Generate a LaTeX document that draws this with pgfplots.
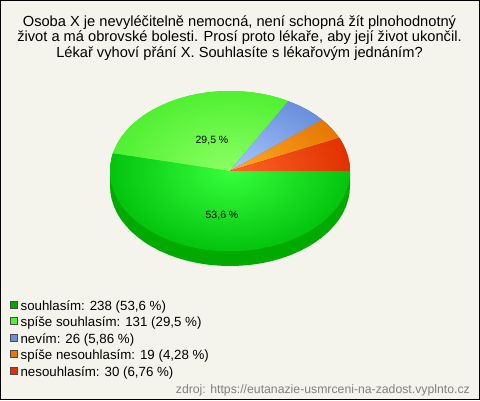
\documentclass[border=0pt]{standalone}
\usepackage{fontspec}
\setmainfont{Liberation Sans}
\usepackage{pgfplots}
\pgfplotsset{compat=1.18}

\definecolor{bgcol}{HTML}{F5F4EC}
\definecolor{rimcol}{HTML}{00AA00}
\definecolor{leg1}{HTML}{00AA00}
\definecolor{leg2}{HTML}{50F032}
\definecolor{leg3}{HTML}{6A8FDC}
\definecolor{leg4}{HTML}{E67800}
\definecolor{leg5}{HTML}{E03200}
\definecolor{in1}{HTML}{36FF3C}
\definecolor{out1}{HTML}{04C40E}
\definecolor{in2}{HTML}{8CFF64}
\definecolor{in3}{HTML}{A6C8FF}
\definecolor{in4}{HTML}{FFAA28}
\definecolor{in5}{HTML}{FF6428}

% radial gradient round the pie centre, clipped to each slice
% (the guard stops the inner path from running the picture again)
\pgfplotsset{
    slice/.style 2 args={
        draw=none, fill=#2, forget plot,
        path picture={
            \ifdefined\insideslice\else
            \def\insideslice{}
            \fill[inner color=#1, outer color=#2] (axis cs:0,0) ellipse [x radius=120pt, y radius=80pt];
            \fi
        }
    }
}

\begin{document}
\begin{tikzpicture}
\begin{axis}[
    scale only axis,
    width=479pt, height=399pt,
    xmin=-229.5, xmax=249.5,
    ymin=-228.5, ymax=170.5,
    xtick=\empty, ytick=\empty,
    axis line style={black, line width=1pt},
    axis background/.style={fill=bgcol},
    legend style={
        at={(axis cs:-220,-130)}, anchor=north west,
        draw=none, fill=none, inner sep=0pt, outer sep=0pt,
        font=\fontsize{13.3}{15}\selectfont,
        row sep=4pt,
        nodes={text height=9pt, text depth=3pt, inner sep=0pt, outer sep=0pt}
    },
    legend cell align=left,
    legend image code/.code={
        \draw[#1, line width=0.8pt] (0pt,-1pt) rectangle (7pt,6pt);
        \path (10pt,0pt);
    },
]
% rim of the pie
\addplot[draw=none, fill=rimcol, forget plot] coordinates {
    (-120,0)(-120,-15)(-119.5,-22)(-118.2,-28.9)(-115.9,-35.7)(-112.8,-42.4)(-108.8,-48.8)
    (-103.9,-55)(-98.3,-60.9)(-91.9,-66.4)(-84.9,-71.6)(-77.1,-76.3)(-68.8,-80.5)(-60,-84.3)
    (-50.7,-87.5)(-41,-90.2)(-31.1,-92.3)(-20.8,-93.8)(-10.5,-94.7)(0,-95)
    (10.5,-94.7)(20.8,-93.8)(31.1,-92.3)(41,-90.2)(50.7,-87.5)(60,-84.3)(68.8,-80.5)
    (77.1,-76.3)(84.9,-71.6)(91.9,-66.4)(98.3,-60.9)(103.9,-55)(108.8,-48.8)(112.8,-42.4)
    (115.9,-35.7)(118.2,-28.9)(119.5,-22)(120,-15)(120,0)(-120,0)
};
% souhlasim 238
\addplot[slice={in1}{out1}] coordinates {
    (0,0)(-116.9,18)(-118.2,13.9)(-119.5,7)(-120,0)
    (-119.5,-7)(-118.2,-13.9)(-115.9,-20.7)(-112.8,-27.4)(-108.8,-33.8)(-103.9,-40)(-98.3,-45.9)
    (-91.9,-51.4)(-84.9,-56.6)(-77.1,-61.3)(-68.8,-65.5)(-60,-69.3)(-50.7,-72.5)(-41,-75.2)
    (-31.1,-77.3)(-20.8,-78.8)(-10.5,-79.7)(0,-80)
    (10.5,-79.7)(20.8,-78.8)(31.1,-77.3)(41,-75.2)(50.7,-72.5)(60,-69.3)(68.8,-65.5)
    (77.1,-61.3)(84.9,-56.6)(91.9,-51.4)(98.3,-45.9)(103.9,-40)(108.8,-33.8)(112.8,-27.4)
    (115.9,-20.7)(118.2,-13.9)(119.5,-7)(120,0)(0,0)
};
% spise souhlasim 131
\addplot[slice={in2}{leg2}] coordinates {
    (0,0)(58.5,69.8)(50.7,72.5)(41,75.2)(31.1,77.3)(20.8,78.8)(10.5,79.7)(0,80)
    (-10.5,79.7)(-20.8,78.8)(-31.1,77.3)(-41,75.2)(-50.7,72.5)(-60,69.3)(-68.8,65.5)
    (-77.1,61.3)(-84.9,56.6)(-91.9,51.4)(-98.3,45.9)(-103.9,40)(-108.8,33.8)(-112.8,27.4)
    (-115.9,20.7)(-116.9,18)(0,0)
};
% nevim 26
\addplot[slice={in3}{leg3}] coordinates {
    (0,0)(92.3,51.1)(84.9,56.6)(77.1,61.3)(68.8,65.5)(58.5,69.8)(0,0)
};
% spise nesouhlasim 19
\addplot[slice={in4}{leg4}] coordinates {
    (0,0)(109.4,32.9)(103.9,40)(98.3,45.9)(92.3,51.1)(0,0)
};
% nesouhlasim 30
\addplot[slice={in5}{leg5}] coordinates {
    (0,0)(120,0)(119.5,7)(118.2,13.9)(115.9,20.7)(112.8,27.4)(109.4,32.9)(0,0)
};

\addlegendimage{draw=black!70, fill=leg1}
\addlegendentry{souhlasím: 238 (53,6 \%)}
\addlegendimage{draw=black!70, fill=leg2}
\addlegendentry{spíše souhlasím: 131 (29,5 \%)}
\addlegendimage{draw=black!70, fill=leg3}
\addlegendentry{nevím: 26 (5,86 \%)}
\addlegendimage{draw=black!70, fill=leg4}
\addlegendentry{spíše nesouhlasím: 19 (4,28 \%)}
\addlegendimage{draw=black!70, fill=leg5}
\addlegendentry{nesouhlasím: 30 (6,76 \%)}

\node[align=center, anchor=north, inner sep=0pt, font=\fontsize{14.65}{15.5}\selectfont]
    at (axis cs:9.5,155.5) {Osoba X je nevyléčitelně nemocná, není schopná žít plnohodnotný\\
    život a má obrovské bolesti. Prosí proto lékaře, aby její život ukončil.\\
    Lékař vyhoví přání X. Souhlasíte s lékařovým jednáním?};
\node[font=\fontsize{10.5}{12}\selectfont] at (axis cs:-18,30) {29,5 \%};
\node[font=\fontsize{10.5}{12}\selectfont] at (axis cs:-8,-45) {53,6 \%};
\node[anchor=base east, inner sep=0pt, text=black!50, font=\fontsize{12.25}{14}\selectfont]
    at (axis cs:240,-222) {zdroj: https://eutanazie-usmrceni-na-zadost.vyplnto.cz};
\end{axis}
\end{tikzpicture}
\end{document}
